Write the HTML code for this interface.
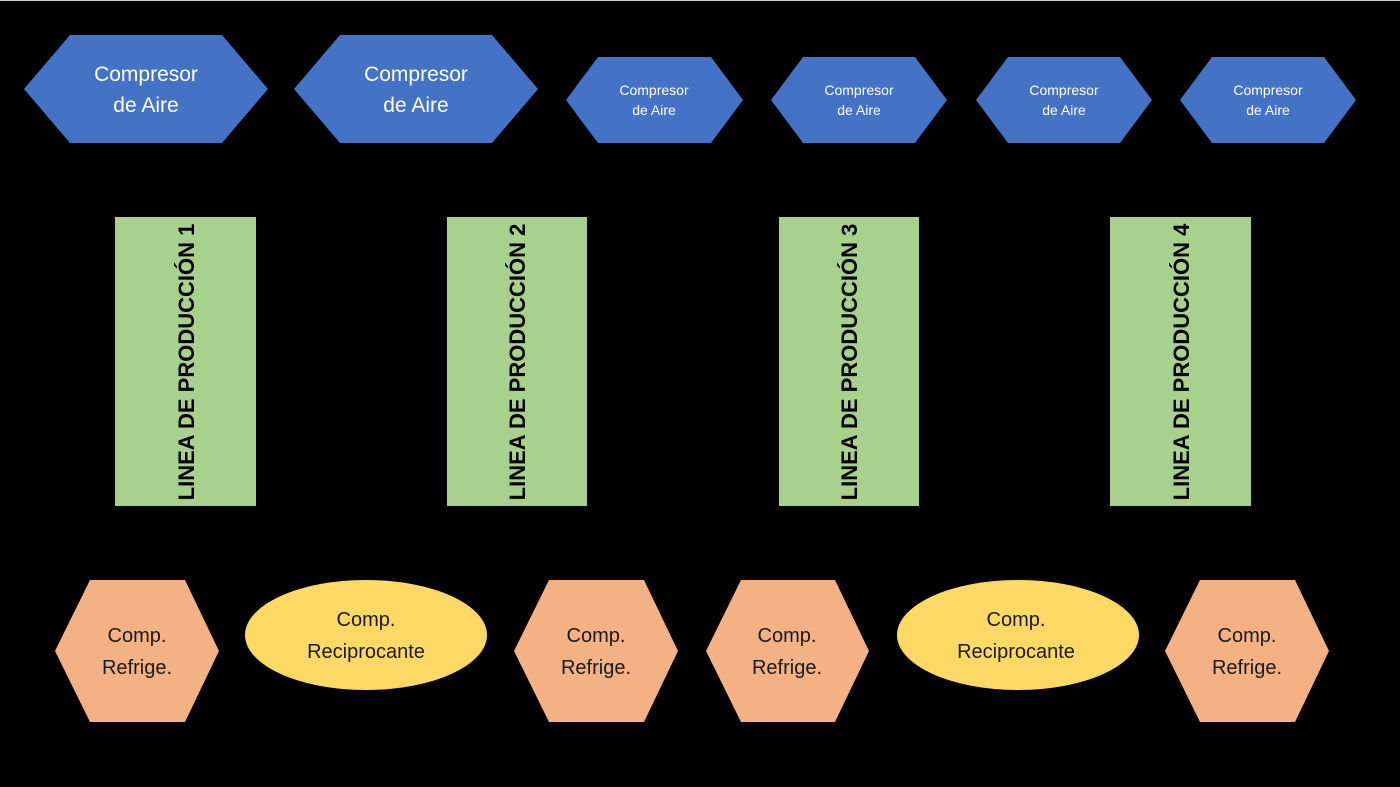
<!DOCTYPE html>
<html><head><meta charset="utf-8"><style>
html,body{margin:0;padding:0;background:#000;}
svg{display:block}
text{font-family:"Liberation Sans",sans-serif;}
</style></head><body>
<svg width="1400" height="787" viewBox="0 0 1400 787" xmlns="http://www.w3.org/2000/svg">
<rect width="1400" height="787" fill="#000"/>
<line x1="0" y1="0.5" x2="1400" y2="0.5" stroke="#ccc" stroke-width="1"/>
<g fill="#4472C4">
<polygon points="24,89 70,35 222,35 268,89 222,143 70,143"/>
<polygon points="294,89 340,35 492,35 538,89 492,143 340,143"/>
<polygon points="566,100 598,57 711,57 743,100 711,143 598,143"/>
<polygon points="771,100 803,57 915,57 947,100 915,143 803,143"/>
<polygon points="976,100 1008,57 1120,57 1152,100 1120,143 1008,143"/>
<polygon points="1180,100 1212,57 1324,57 1356,100 1324,143 1212,143"/>
</g>
<g fill="#fff" text-anchor="middle">
<text x="146" y="81" font-size="21">Compresor</text><text x="146" y="112" font-size="21">de Aire</text>
<text x="416" y="81" font-size="21">Compresor</text><text x="416" y="112" font-size="21">de Aire</text>
<text x="654" y="95" font-size="14">Compresor</text><text x="654" y="115" font-size="14">de Aire</text>
<text x="859" y="95" font-size="14">Compresor</text><text x="859" y="115" font-size="14">de Aire</text>
<text x="1064" y="95" font-size="14">Compresor</text><text x="1064" y="115" font-size="14">de Aire</text>
<text x="1268" y="95" font-size="14">Compresor</text><text x="1268" y="115" font-size="14">de Aire</text>
</g>
<g fill="#A9D18E">
<rect x="115" y="217" width="141" height="289"/>
<rect x="447" y="217" width="140" height="289"/>
<rect x="779" y="217" width="140" height="289"/>
<rect x="1110" y="217" width="141" height="289"/>
</g>
<g fill="#000" font-size="22" font-weight="bold" text-anchor="middle">
<text transform="translate(194,362) rotate(-90)">LINEA DE PRODUCCIÓN 1</text>
<text transform="translate(525,362) rotate(-90)">LINEA DE PRODUCCIÓN 2</text>
<text transform="translate(857,362) rotate(-90)">LINEA DE PRODUCCIÓN 3</text>
<text transform="translate(1189,362) rotate(-90)">LINEA DE PRODUCCIÓN 4</text>
</g>
<g fill="#F4B183">
<polygon points="55,651 90,580 185,580 219,651 185,722 90,722"/>
<polygon points="514,651 549,580 644,580 678,651 644,722 549,722"/>
<polygon points="706,651 741,580 835,580 869,651 835,722 741,722"/>
<polygon points="1165,651 1200,580 1295,580 1329,651 1295,722 1200,722"/>
</g>
<g fill="#FFD966">
<ellipse cx="366" cy="635" rx="121" ry="55"/>
<ellipse cx="1018" cy="635" rx="121" ry="55"/>
</g>
<g fill="#1a1a1a" font-size="20" text-anchor="middle">
<text x="137" y="642">Comp.</text><text x="137" y="674">Refrige.</text>
<text x="596" y="642">Comp.</text><text x="596" y="674">Refrige.</text>
<text x="787" y="642">Comp.</text><text x="787" y="674">Refrige.</text>
<text x="1247" y="642">Comp.</text><text x="1247" y="674">Refrige.</text>
<text x="366" y="626">Comp.</text><text x="366" y="658">Reciprocante</text>
<text x="1016" y="626">Comp.</text><text x="1016" y="658">Reciprocante</text>
</g>
</svg>
</body></html>
